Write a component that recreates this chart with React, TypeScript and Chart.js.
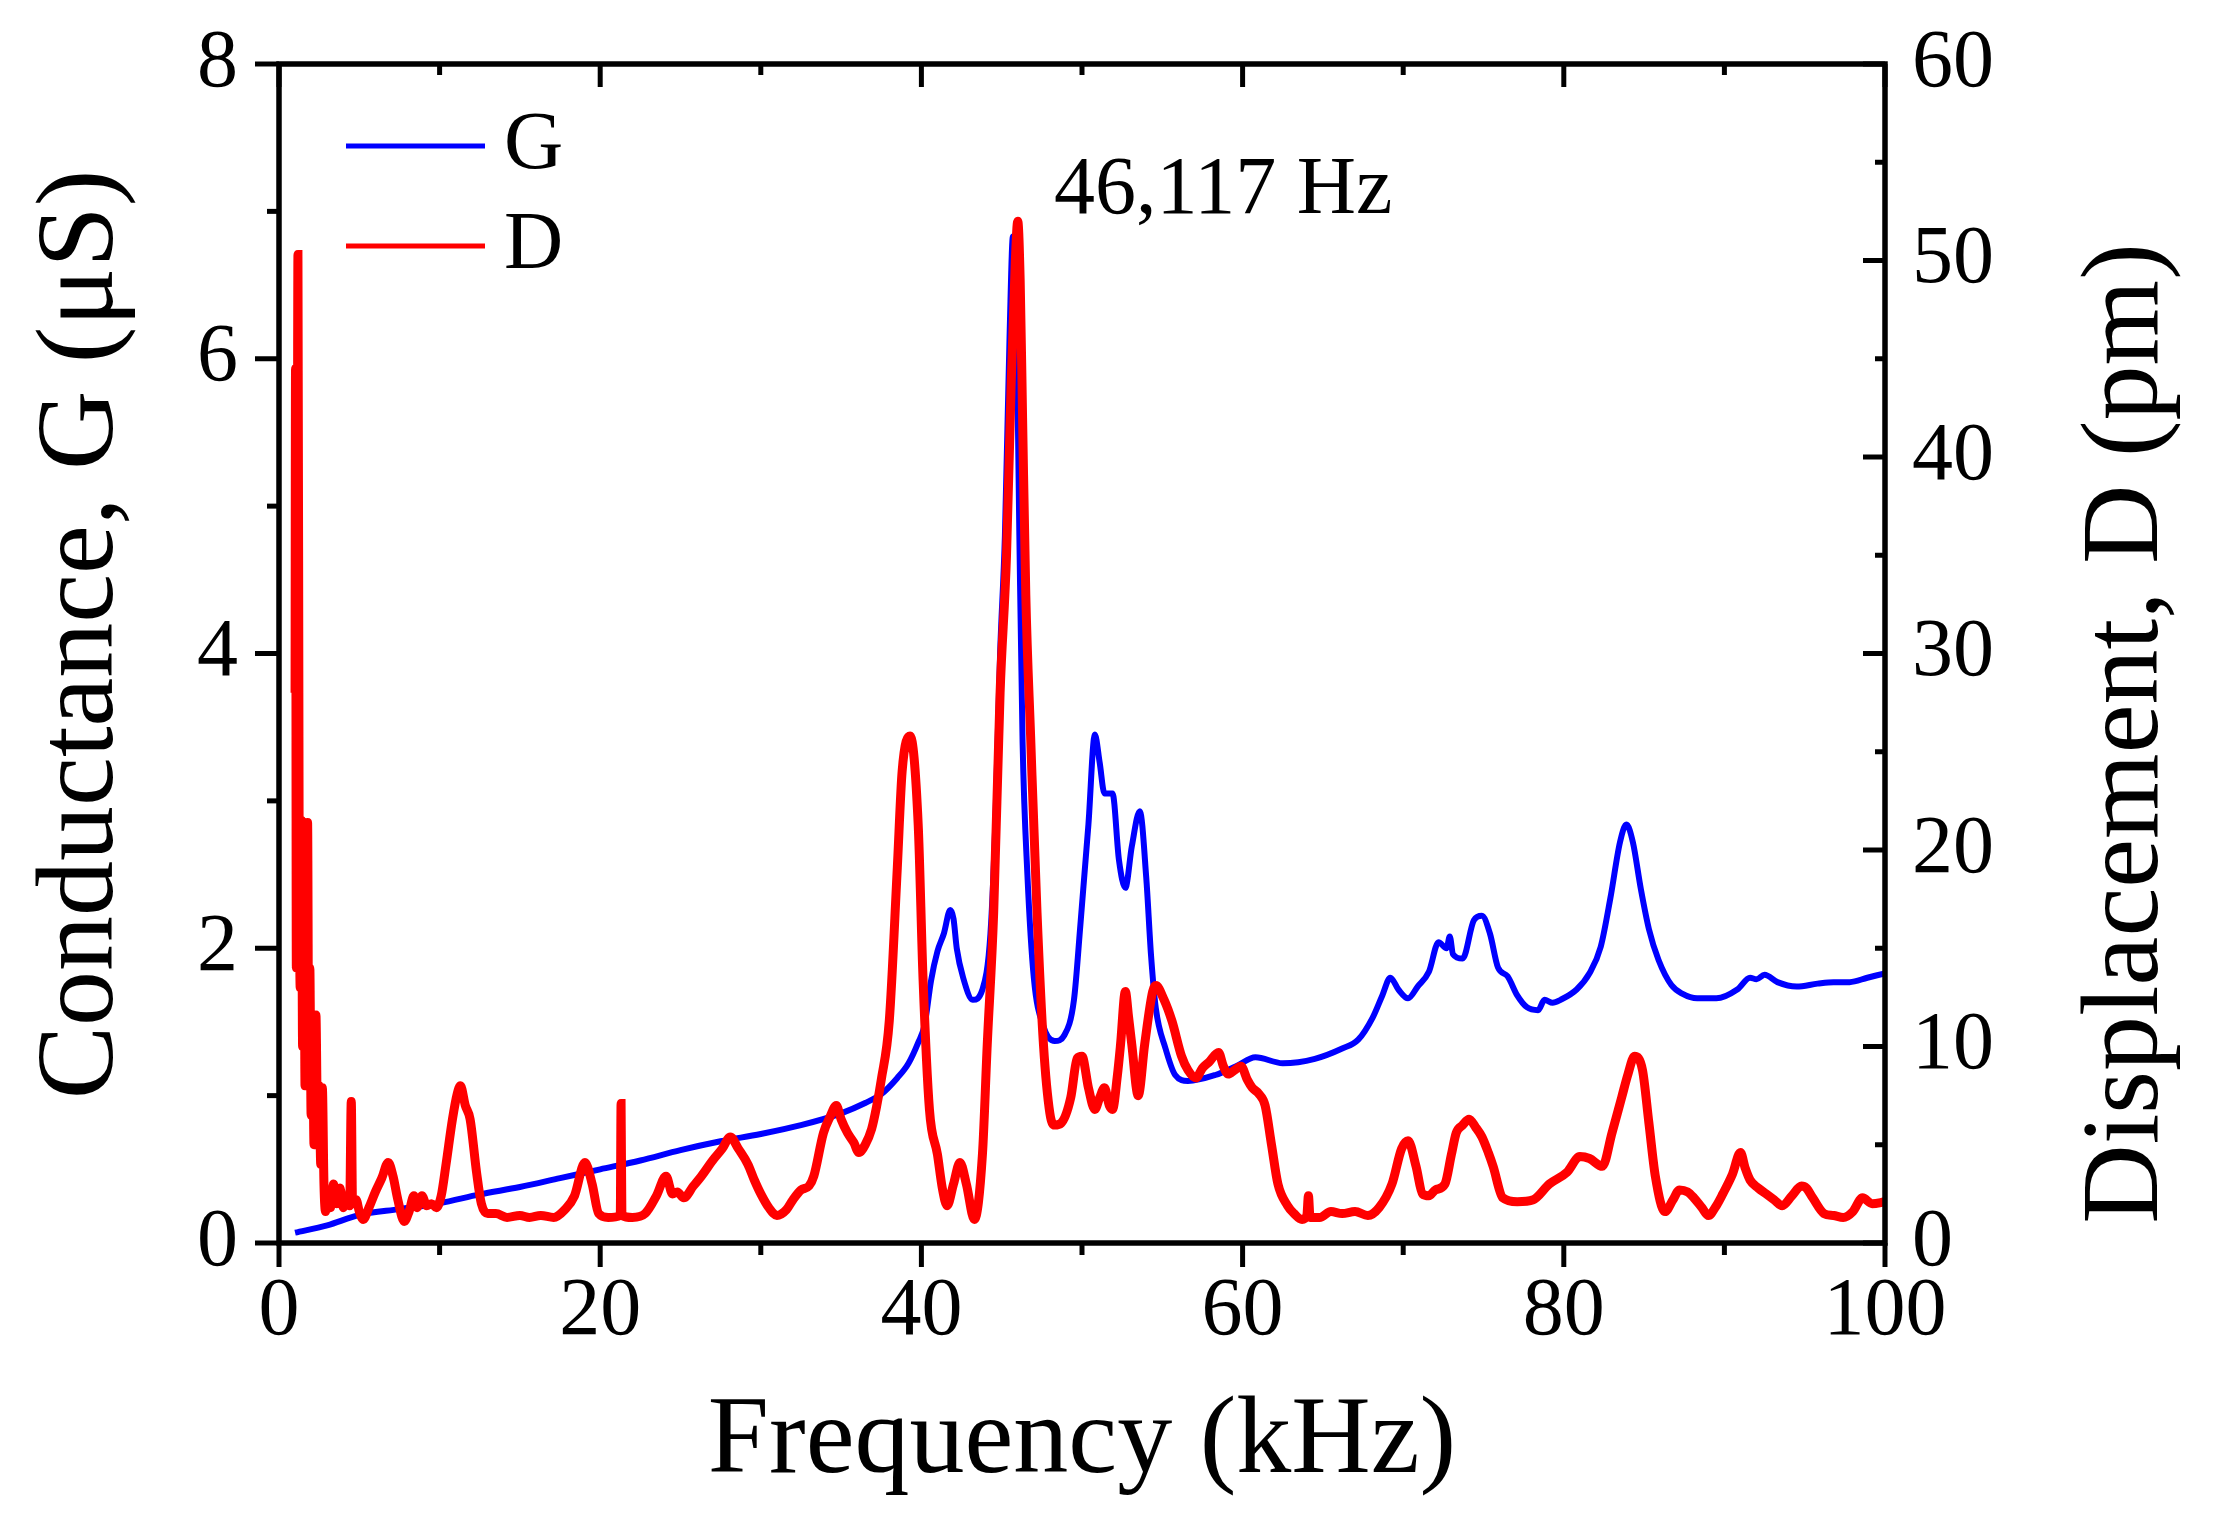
import React, { useEffect, useRef } from 'react';
import { Chart, registerables } from 'chart.js';

Chart.register(...registerables);

// === Text ===
const FONT = '"Liberation Serif", "Times New Roman", serif';
const X_TITLE = 'Frequency (kHz)';
const G_TITLE = 'Conductance, G (μS)';
const D_TITLE = 'Displacement, D (pm)';
const PEAK_NOTE = '46,117 Hz';
const PEAK_NOTE_AT = [48.25, 6.99]; // kHz, µS

// === Conductance G (µS) ===
const G_FREQ = [
  1.0, 3, 5, 7.5, 10, 12.5, 15, 17.5, 20, 22.5, 25, 27.5, 30, 32.5, 35, 36.5, 37.5, 38.5, 39.2, 39.8,
  40.2, 40.6, 41.0, 41.4, 41.8, 42.0, 42.2, 42.6, 43.2, 43.8, 44.3, 44.6, 44.9, 45.2, 45.5, 45.7, 45.9, 46.1, 46.3, 46.6,
  47.0, 47.6, 48.3, 48.9, 49.5, 49.9, 50.4, 50.8, 51.1, 51.4, 51.9, 52.3, 52.7, 53.1, 53.6, 54.0, 54.3, 54.6, 55.2, 55.8,
  56.6, 58.3, 59.6, 60.8, 62.5, 64.5, 66.2, 67.2, 68.1, 68.7, 69.2, 69.7, 70.3, 70.9, 71.6, 72.2, 72.7, 72.9, 73.1, 73.7,
  74.4, 74.9, 75.4, 75.9, 76.5, 77.1, 77.7, 78.4, 78.8, 79.3, 79.8, 80.8, 81.6, 82.3, 82.9, 83.5, 83.9, 84.3, 84.8, 85.3,
  85.9, 86.7, 87.4, 88.3, 89.5, 90.8, 91.6, 92.0, 92.5, 93.3, 94.5, 95.8, 96.8, 97.8, 98.9, 100,
];
const G_VALUES = [
  0.07, 0.12, 0.19, 0.23, 0.27, 0.33, 0.38, 0.44, 0.50, 0.56, 0.63, 0.69, 0.74, 0.80, 0.88, 0.95, 1.01, 1.12, 1.22, 1.36,
  1.48, 1.78, 1.98, 2.1, 2.26, 2.2, 2.0, 1.80, 1.65, 1.72, 2.1, 2.84, 4.0, 4.8, 6.2, 6.83, 6.4, 4.8, 3.4, 2.5,
  1.8, 1.47, 1.37, 1.41, 1.65, 2.16, 2.84, 3.45, 3.26, 3.05, 3.05, 2.6, 2.41, 2.69, 2.93, 2.48, 1.95, 1.59, 1.32, 1.14,
  1.10, 1.14, 1.20, 1.26, 1.22, 1.25, 1.32, 1.38, 1.53, 1.68, 1.80, 1.72, 1.66, 1.74, 1.84, 2.04, 2.0, 2.08, 1.96, 1.93,
  2.19, 2.22, 2.10, 1.87, 1.81, 1.68, 1.60, 1.58, 1.65, 1.63, 1.65, 1.72, 1.83, 2.01, 2.34, 2.72, 2.84, 2.72, 2.40, 2.13,
  1.92, 1.75, 1.69, 1.66, 1.66, 1.72, 1.80, 1.79, 1.82, 1.77, 1.74, 1.76, 1.77, 1.77, 1.80, 1.83,
];

// === Displacement D (pm) ===
const D_FREQ = [
  1.0, 1.03, 1.08, 1.13, 1.18, 1.25, 1.32, 1.4, 1.47, 1.55, 1.62, 1.7, 1.78, 1.85, 1.92, 2.0, 2.1, 2.18, 2.3, 2.4,
  2.5, 2.6, 2.7, 2.8, 2.9, 3.0, 3.2, 3.4, 3.6, 3.8, 4.0, 4.2, 4.4, 4.5, 4.58, 4.8, 5.0, 5.25, 5.6, 6.0,
  6.4, 6.8, 7.1, 7.4, 7.8, 8.1, 8.4, 8.6, 8.9, 9.2, 9.5, 9.8, 10.1, 10.4, 10.8, 11.1, 11.3, 11.6, 11.9, 12.3,
  12.6, 13.0, 13.5, 14.2, 15, 15.6, 16.3, 17.1, 17.8, 18.4, 19.05, 19.5, 19.9, 20.5, 21.25, 21.3, 21.35, 22, 22.8, 23.5,
  24.1, 24.5, 24.8, 25.2, 25.8, 26.3, 27.0, 27.6, 28.1, 28.6, 29.2, 29.6, 30.0, 30.5, 31.0, 31.6, 32.0, 32.5, 33.0, 33.3,
  33.9, 34.3, 34.7, 35.0, 35.4, 35.8, 36.1, 36.5, 36.9, 37.2, 37.5, 38.0, 38.5, 38.8, 39.3, 39.8, 40.1, 40.5, 41.0, 41.3,
  41.6, 42.0, 42.4, 42.8, 43.3, 43.8, 44.1, 44.5, 44.9, 45.3, 45.6, 45.85, 46.0, 46.15, 46.3, 46.5, 46.8, 47.2, 47.6, 48.0,
  48.3, 48.7, 49.3, 49.7, 50.0, 50.4, 50.8, 51.1, 51.4, 51.7, 51.9, 52.2, 52.4, 52.7, 52.9, 53.1, 53.5, 53.9, 54.4, 54.6,
  55.1, 55.6, 56.2, 56.6, 57.1, 57.5, 57.9, 58.5, 58.8, 59.1, 59.5, 59.9, 60.3, 60.6, 61.0, 61.4, 61.8, 62.2, 62.8, 63.2,
  63.7, 64.0, 64.1, 64.2, 64.8, 65.5, 66.2, 67.0, 67.8, 68.5, 69.3, 69.9, 70.3, 70.8, 71.2, 71.6, 72.0, 72.6, 73.0, 73.3,
  73.7, 74.1, 74.5, 74.9, 75.3, 75.6, 76.2, 77.1, 78.1, 79.1, 80.2, 81.0, 81.6, 82.4, 83.0, 83.6, 84.0, 84.4, 84.9, 85.3,
  85.7, 86.3, 86.8, 87.2, 87.7, 88.1, 88.6, 89.0, 89.5, 89.9, 90.5, 91.0, 91.3, 91.6, 92.1, 92.6, 93.1, 93.6, 94.2, 94.8,
  95.1, 95.5, 96.2, 96.8, 97.4, 98.0, 98.6, 99.2, 100,
];
const D_VALUES = [
  28, 44.5, 14, 30, 50.3, 22, 13, 21.5, 10, 21, 8, 18, 21.4, 9, 14, 6.5, 10, 5, 11.6, 6,
  8, 4, 7.9, 3, 1.6, 2.6, 1.8, 3.0, 2.0, 2.8, 1.8, 2.4, 1.9, 7.2, 2.0, 2.2, 1.6, 1.2, 1.8, 2.6,
  3.3, 4.1, 3.4, 2.2, 1.1, 1.6, 2.4, 1.8, 2.4, 1.9, 2.0, 1.8, 2.4, 4.0, 6.3, 7.6, 8.0, 7.0, 6.3, 3.6,
  2.0, 1.5, 1.5, 1.3, 1.4, 1.3, 1.4, 1.3, 1.7, 2.4, 4.1, 3.0, 1.5, 1.3, 1.4, 7.1, 1.4, 1.3, 1.5, 2.4,
  3.4, 2.5, 2.6, 2.3, 2.9, 3.4, 4.2, 4.8, 5.4, 4.8, 4.0, 3.2, 2.5, 1.8, 1.4, 1.7, 2.2, 2.7, 2.9, 3.4,
  5.6, 6.4, 7.0, 6.3, 5.6, 5.1, 4.6, 5.0, 5.8, 6.9, 8.3, 11.3, 19.1, 24.0, 25.8, 21.3, 13.5, 6.8, 4.5, 2.8,
  1.9, 3.0, 4.1, 3.0, 1.2, 4.5, 10.1, 16.8, 28.0, 35, 44, 50, 52, 49, 42, 33, 25.8, 16.8, 10.1, 6.6,
  6.0, 6.1, 7.4, 9.4, 9.5, 7.9, 6.8, 7.4, 7.9, 7.0, 6.8, 8.5, 10.1, 12.8, 11.5, 10.1, 7.5, 10.1, 12.8, 13.1,
  12.4, 11.3, 9.5, 8.8, 8.4, 8.9, 9.2, 9.7, 9.0, 8.6, 8.8, 9.0, 8.3, 7.9, 7.6, 7.0, 5.0, 3.0, 1.9, 1.5,
  1.2, 1.4, 2.4, 1.3, 1.3, 1.6, 1.5, 1.6, 1.4, 1.8, 3.0, 4.8, 5.2, 3.9, 2.5, 2.4, 2.7, 3.0, 4.5, 5.6,
  6.0, 6.3, 5.9, 5.4, 4.6, 3.9, 2.3, 2.1, 2.2, 3.0, 3.6, 4.4, 4.3, 3.9, 5.6, 7.4, 8.6, 9.5, 8.8, 6.1,
  3.4, 1.6, 2.2, 2.7, 2.6, 2.3, 1.8, 1.4, 1.9, 2.5, 3.5, 4.6, 3.8, 3.2, 2.8, 2.5, 2.2, 1.9, 2.4, 2.9,
  2.8, 2.3, 1.5, 1.4, 1.3, 1.6, 2.3, 2.0, 2.1,
];

const toPoints = (xs: number[], ys: number[]) => xs.map((x, i) => ({ x, y: ys[i] }));

// === Frame, ticks, titles, legend, note ===
const framePlugin = {
  id: 'frame',
  afterDatasetsDraw(chart: any) {
    const { ctx, chartArea: a, scales } = chart;
    const x = scales.x;
    const yG = scales.yG;
    const yD = scales.yD;
    const line = (x1: number, y1: number, x2: number, y2: number) => {
      ctx.beginPath();
      ctx.moveTo(x1, y1);
      ctx.lineTo(x2, y2);
      ctx.stroke();
    };

    ctx.save();
    ctx.strokeStyle = '#000';
    ctx.lineWidth = 5.5;
    ctx.lineCap = 'butt';
    ctx.strokeRect(a.left, a.top, a.right - a.left, a.bottom - a.top);

    ctx.lineWidth = 5;
    for (let v = 0; v <= 100; v += 10) {
      const px = x.getPixelForValue(v);
      const major = v % 20 === 0;
      line(px, a.bottom, px, a.bottom + (major ? 24 : 12));
      line(px, a.top, px, a.top + (major ? 23 : 11));
    }
    for (let v = 0; v <= 8; v += 1) {
      const py = yG.getPixelForValue(v);
      line(a.left, py, a.left - (v % 2 === 0 ? 24 : 12), py);
    }
    for (let v = 0; v <= 60; v += 5) {
      const py = yD.getPixelForValue(v);
      line(a.right, py, a.right - (v % 10 === 0 ? 22 : 10), py);
    }

    // axis titles
    ctx.fillStyle = '#000';
    ctx.font = `110px ${FONT}`;
    ctx.textAlign = 'center';
    ctx.textBaseline = 'alphabetic';
    ctx.fillText(X_TITLE, (a.left + a.right) / 2, a.bottom + 229);

    ctx.save();
    ctx.translate(a.left - 167, (a.top + a.bottom) / 2 - 19);
    ctx.rotate(-Math.PI / 2);
    ctx.fillText(G_TITLE, 0, 0);
    ctx.restore();

    ctx.save();
    ctx.translate(a.right + 272, (a.top + a.bottom) / 2 + 80);
    ctx.rotate(-Math.PI / 2);
    ctx.fillText(D_TITLE, 0, 0);
    ctx.restore();

    // legend
    ctx.font = `82px ${FONT}`;
    ctx.textAlign = 'left';
    chart.data.datasets.forEach((ds: any, i: number) => {
      const ly = a.top + 82 + i * 100;
      ctx.strokeStyle = ds.borderColor;
      ctx.lineWidth = 5;
      line(a.left + 67, ly, a.left + 206, ly);
      ctx.fillText(ds.label, a.left + 225, ly + 22);
    });

    // peak note
    ctx.fillText(PEAK_NOTE, x.getPixelForValue(PEAK_NOTE_AT[0]), yG.getPixelForValue(PEAK_NOTE_AT[1]));
    ctx.restore();
  },
};

const tickFont = { family: FONT, size: 82, lineHeight: 1 };

const App: React.FC = () => {
  const canvasRef = useRef<HTMLCanvasElement>(null);

  useEffect(() => {
    if (!canvasRef.current) return;
    const chart = new Chart(canvasRef.current, {
      type: 'line',
      data: {
        datasets: [
          {
            label: 'G',
            data: toPoints(G_FREQ, G_VALUES),
            yAxisID: 'yG',
            borderColor: '#0000ff',
            borderWidth: 6,
            pointRadius: 0,
            cubicInterpolationMode: 'monotone',
            order: 2,
          },
          {
            label: 'D',
            data: toPoints(D_FREQ, D_VALUES),
            yAxisID: 'yD',
            borderColor: '#ff0000',
            borderWidth: 9,
            pointRadius: 0,
            cubicInterpolationMode: 'monotone',
            order: 1,
          },
        ],
      },
      options: {
        animation: false,
        responsive: true,
        maintainAspectRatio: false,
        devicePixelRatio: 1,
        layout: { padding: { top: 64, left: 0, right: 0, bottom: 0 } },
        plugins: { legend: { display: false }, tooltip: { enabled: false } },
        scales: {
          x: {
            type: 'linear',
            position: 'bottom',
            min: 0,
            max: 100,
            ticks: { stepSize: 20, color: '#000', font: tickFont, padding: 4, maxRotation: 0, autoSkip: false },
            grid: { display: false, drawTicks: true, tickLength: 24 },
            border: { display: false },
            afterFit: (s: any) => { s.height = 270; },
          },
          yG: {
            type: 'linear',
            position: 'left',
            min: 0,
            max: 8,
            ticks: { stepSize: 2, color: '#000', font: tickFont, padding: 17 },
            grid: { display: false, drawTicks: true, tickLength: 24 },
            border: { display: false },
            afterFit: (s: any) => { s.width = 279; },
          },
          yD: {
            type: 'linear',
            position: 'right',
            min: 0,
            max: 60,
            ticks: { stepSize: 10, color: '#000', font: tickFont, padding: 7 },
            grid: { display: false, drawTicks: true, tickLength: 20 },
            border: { display: false },
            afterFit: (s: any) => { s.width = 330; },
          },
        },
      },
      plugins: [framePlugin],
    });
    return () => chart.destroy();
  }, []);

  return (
    <div style={{ position: 'fixed', left: 0, top: 0, width: 2215, height: 1513, background: '#fff' }}>
      <canvas ref={canvasRef} />
    </div>
  );
};

export default App;
